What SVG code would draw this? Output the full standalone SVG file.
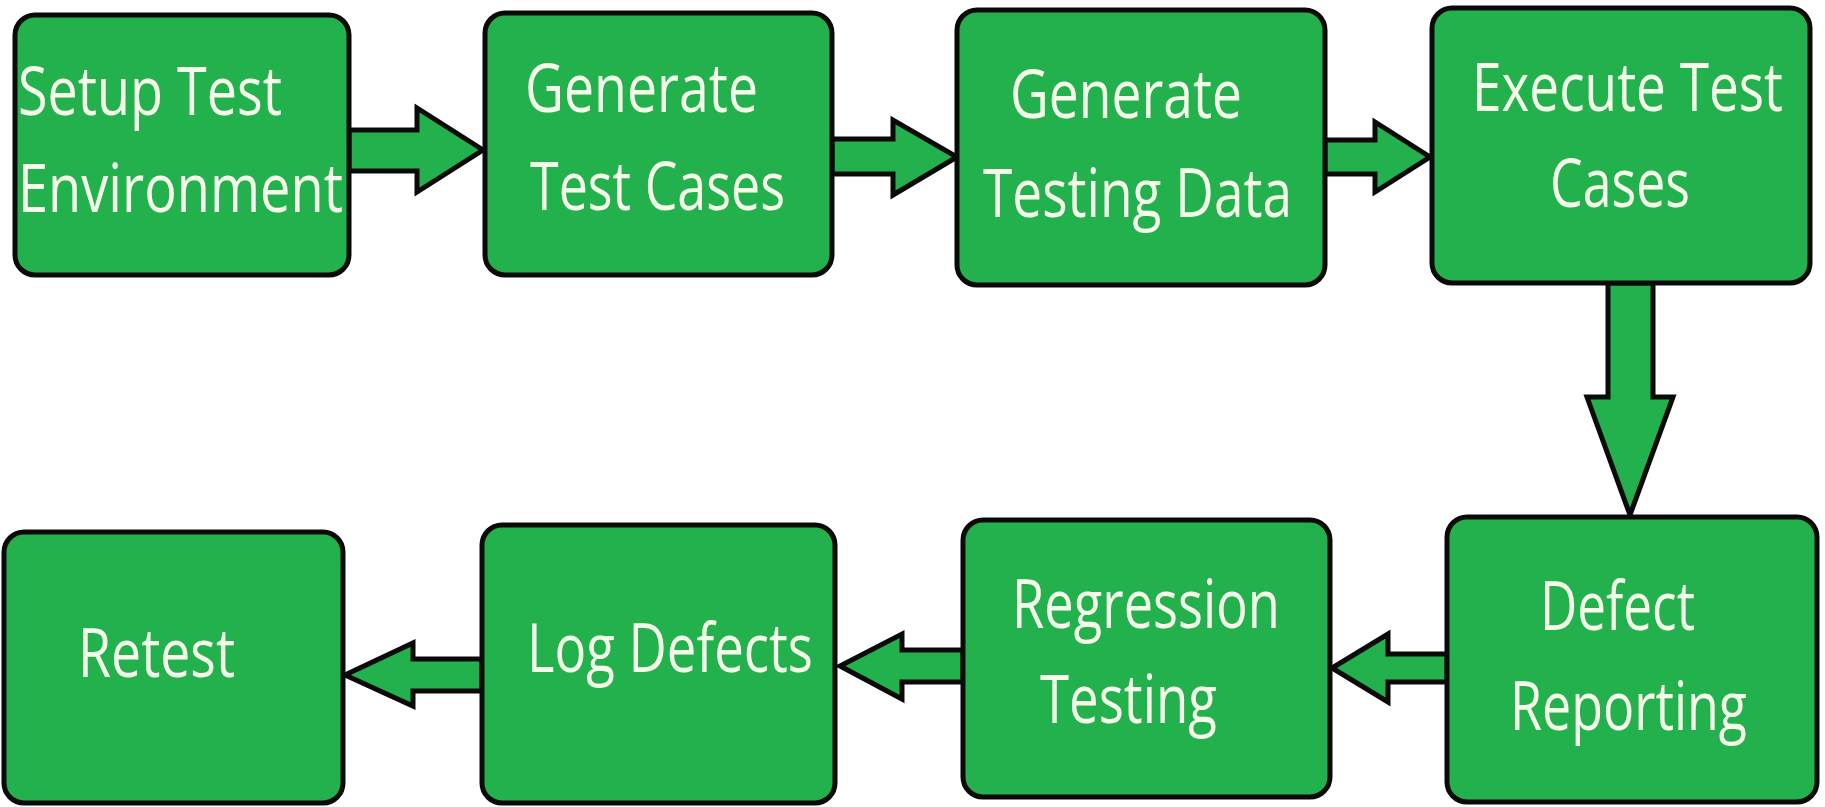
<svg xmlns="http://www.w3.org/2000/svg" width="1825" height="807" viewBox="0 0 1825 807">
<style>
.box{fill:#22b14c;stroke:#0a0a0a;stroke-width:5}
.arr{fill:#22b14c;stroke:#0a0a0a;stroke-width:5;stroke-linejoin:miter}
.t{font-family:"Open Sans","Noto Sans","Liberation Sans",sans-serif;font-size:68px;fill:#f4fbe8}
</style>
<rect width="1825" height="807" fill="#ffffff"/>
<g id="connectors">
<polygon class="arr" points="349,130 417,130 417,108 483,150 417,192 417,171 349,171"/>
<polygon class="arr" points="832,139 893,139 893,120 957,157 893,195 893,174 832,174"/>
<polygon class="arr" points="1325,140 1375,140 1375,122 1430,157 1375,192 1375,174 1325,174"/>
<polygon class="arr" points="1608,283 1653,283 1653,397 1673,397 1630,515 1587,397 1608,397"/>
<polygon class="arr" points="1447,654 1388,654 1388,634 1332,668 1388,702 1388,682 1447,682"/>
<polygon class="arr" points="963,650 902,650 902,634 840,666 902,699 902,682 963,682"/>
<polygon class="arr" points="482,659 413,659 413,643 345,675 413,706 413,691 482,691"/>
</g>
<g id="n1"><rect class="box" x="15" y="15" width="334" height="260" rx="20"/>
<text class="t" x="18" y="115" textLength="264" lengthAdjust="spacingAndGlyphs">Setup Test</text>
<text class="t" x="18" y="212" textLength="325" lengthAdjust="spacingAndGlyphs">Environment</text></g>
<g id="n2"><rect class="box" x="485" y="13" width="347" height="262" rx="20"/>
<text class="t" x="525" y="112" textLength="233" lengthAdjust="spacingAndGlyphs">Generate</text>
<text class="t" x="530" y="210" textLength="255" lengthAdjust="spacingAndGlyphs">Test Cases</text></g>
<g id="n3"><rect class="box" x="957" y="10" width="368" height="275" rx="20"/>
<text class="t" x="1010" y="118" textLength="232" lengthAdjust="spacingAndGlyphs">Generate</text>
<text class="t" x="983" y="217" textLength="309" lengthAdjust="spacingAndGlyphs">Testing Data</text></g>
<g id="n4"><rect class="box" x="1432" y="8" width="378" height="275" rx="20"/>
<text class="t" x="1472" y="111" textLength="311" lengthAdjust="spacingAndGlyphs">Execute Test</text>
<text class="t" x="1550" y="207" textLength="140" lengthAdjust="spacingAndGlyphs">Cases</text></g>
<g id="n5"><rect class="box" x="4" y="532" width="339" height="271" rx="20"/>
<text class="t" x="78" y="677" textLength="157" lengthAdjust="spacingAndGlyphs">Retest</text></g>
<g id="n6"><rect class="box" x="482" y="525" width="353" height="278" rx="20"/>
<text class="t" x="527" y="672" textLength="286" lengthAdjust="spacingAndGlyphs">Log Defects</text></g>
<g id="n7"><rect class="box" x="963" y="520" width="367" height="277" rx="20"/>
<text class="t" x="1012" y="628" textLength="268" lengthAdjust="spacingAndGlyphs">Regression</text>
<text class="t" x="1040" y="723" textLength="177" lengthAdjust="spacingAndGlyphs">Testing</text></g>
<g id="n8"><rect class="box" x="1447" y="517" width="370" height="285" rx="20"/>
<text class="t" x="1540" y="630" textLength="155" lengthAdjust="spacingAndGlyphs">Defect</text>
<text class="t" x="1510" y="730" textLength="237" lengthAdjust="spacingAndGlyphs">Reporting</text></g>
</svg>
